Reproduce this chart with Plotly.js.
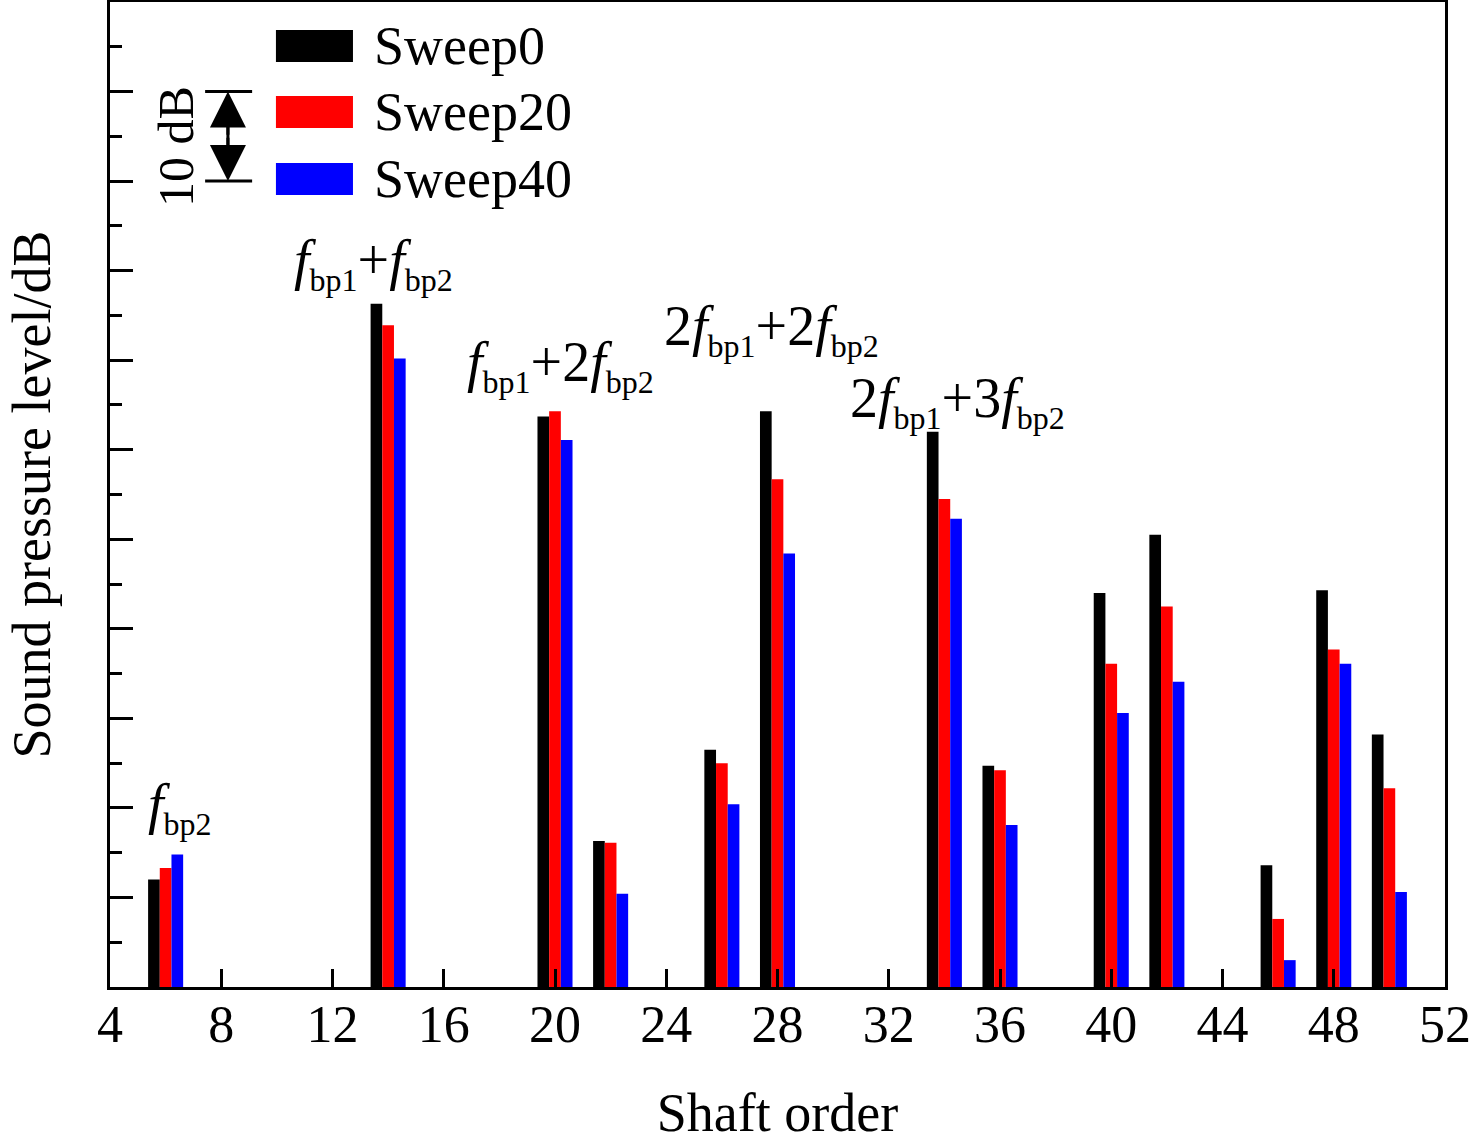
<!DOCTYPE html>
<html>
<head>
<meta charset="utf-8">
<script src="https://cdn.plot.ly/plotly-3.0.1.min.js"></script>
<style>
  body { margin: 0; background: #fff; }
  #chart { width: 1476px; height: 1147px; }
</style>
</head>
<body>
<div id="chart"></div>
<script>
/*** DATA ***/
// shaft orders where the tones sit
const orders = [6, 14, 20, 22, 26, 28, 34, 36, 40, 42, 46, 48, 50];

// sound pressure level (dB above the axis floor)
const sweep0  = [12.0, 76.3, 63.7, 16.3, 26.5, 64.3, 62.0, 24.7, 44.0, 50.5, 13.6, 44.3, 28.2];
const sweep20 = [13.3, 73.9, 64.3, 16.1, 25.0, 56.7, 54.5, 24.2, 36.1, 42.5,  7.6, 37.7, 22.2];
const sweep40 = [14.8, 70.2, 61.1, 10.4, 20.4, 48.4, 52.3, 18.1, 30.6, 34.1,  3.0, 36.1, 10.6];

const seriesNames  = ["Sweep0", "Sweep20", "Sweep40"];
const seriesColors = ["#000000", "#ff0000", "#0000ff"];

const xTicks = [4, 8, 12, 16, 20, 24, 28, 32, 36, 40, 44, 48, 52];

// peak labels: [shaft order, level, text]
const sub = s => "<sub><span style='font-size:32px'>" + s + "</span></sub>";
const peakLabels = [
    [6.52, 20.0, "<i>f</i>" + sub("bp2")],
    [13.49, 80.8, "<i>f</i>" + sub("bp1") + "+<i>f</i>" + sub("bp2")],
    [20.18, 69.4, "<i>f</i>" + sub("bp1") + "+2<i>f</i>" + sub("bp2")],
    [27.8, 73.4, "2<i>f</i>" + sub("bp1") + "+2<i>f</i>" + sub("bp2")],
    [34.46, 65.4, "2<i>f</i>" + sub("bp1") + "+3<i>f</i>" + sub("bp2")]
];

const FONT = "'Liberation Serif', 'Times New Roman', Times, serif";

/*** TRACES ***/
const levels = [sweep0, sweep20, sweep40];
const traces = levels.map((vals, i) => ({
    type: 'bar',
    x: orders,
    y: vals,
    name: seriesNames[i],
    marker: { color: seriesColors[i], line: { width: 0 } },
    showlegend: false
}));

/*** HAND-MADE LEGEND (big boxes like the original) ***/
const shapes = [];
const annotations = [];
const legendRowY = [0.9553, 0.8883, 0.8203];
seriesNames.forEach((name, i) => {
    shapes.push({
        type: 'rect', xref: 'paper', yref: 'paper',
        x0: 0.1243, x1: 0.182,
        y0: legendRowY[i] - 0.0162, y1: legendRowY[i] + 0.0162,
        fillcolor: seriesColors[i], line: { width: 0 }
    });
    annotations.push({
        xref: 'paper', yref: 'paper', x: 0.1965, y: legendRowY[i],
        xanchor: 'left', yanchor: 'middle', showarrow: false,
        text: name, font: { family: FONT, size: 54, color: '#000' }
    });
});

/*** 10 dB scale marker ***/
[90, 100].forEach(lv => {
    shapes.push({
        type: 'line', xref: 'x', yref: 'y',
        x0: 7.42, x1: 9.11, y0: lv, y1: lv,
        line: { color: '#000', width: 3 }
    });
});
shapes.push({
    type: 'line', xref: 'x', yref: 'y',
    x0: 8.24, x1: 8.24, y0: 91, y1: 99,
    line: { color: '#000', width: 3 }
});
[90, 100].forEach(lv => {
    annotations.push({
        xref: 'x', yref: 'y', axref: 'x', ayref: 'y',
        x: 8.24, y: lv, ax: 8.24, ay: 95, text: '',
        showarrow: true, arrowhead: 2, arrowsize: 2.4, arrowwidth: 3, arrowcolor: '#000'
    });
});
annotations.push({
    xref: 'x', yref: 'y', x: 6.37, y: 93.9, textangle: -90,
    showarrow: false, text: '10 dB',
    font: { family: FONT, size: 50, color: '#000' }
});

/*** peak labels ***/
peakLabels.forEach(p => {
    annotations.push({
        xref: 'x', yref: 'y', x: p[0], y: p[1],
        showarrow: false, text: p[2],
        font: { family: FONT, size: 56, color: '#000' }
    });
});

/*** LAYOUT ***/
const layout = {
    width: 1476,
    height: 1147,
    margin: { l: 110, r: 31, t: 2, b: 160 },
    paper_bgcolor: '#fff',
    plot_bgcolor: '#fff',
    barmode: 'group',
    bargap: 0.37,
    bargroupgap: 0,
    font: { family: FONT, color: '#000' },
    xaxis: {
        range: [4, 52],
        tickvals: xTicks,
        ticktext: xTicks.map(String),
        ticks: 'inside', ticklen: 18, tickwidth: 3, tickcolor: '#000',
        tickfont: { family: FONT, size: 52, color: '#000' },
        ticklabelstandoff: -10,
        showgrid: false, zeroline: false,
        showline: true, linecolor: '#000', linewidth: 3, mirror: true,
        title: { text: 'Shaft order', font: { family: FONT, size: 54, color: '#000' }, standoff: 41 }
    },
    yaxis: {
        range: [0, 110],
        dtick: 10, tick0: 0,
        ticks: 'inside', ticklen: 23, tickwidth: 3, tickcolor: '#000',
        minor: { dtick: 5, ticks: 'inside', ticklen: 12, tickwidth: 3, tickcolor: '#000' },
        showticklabels: false,
        showgrid: false, zeroline: false,
        showline: true, linecolor: '#000', linewidth: 3, mirror: true,
        title: { text: 'Sound pressure level/dB', font: { family: FONT, size: 54, color: '#000' }, standoff: 40 }
    },
    shapes: shapes,
    annotations: annotations
};

Plotly.newPlot('chart', traces, layout, { staticPlot: true });
</script>
</body>
</html>
